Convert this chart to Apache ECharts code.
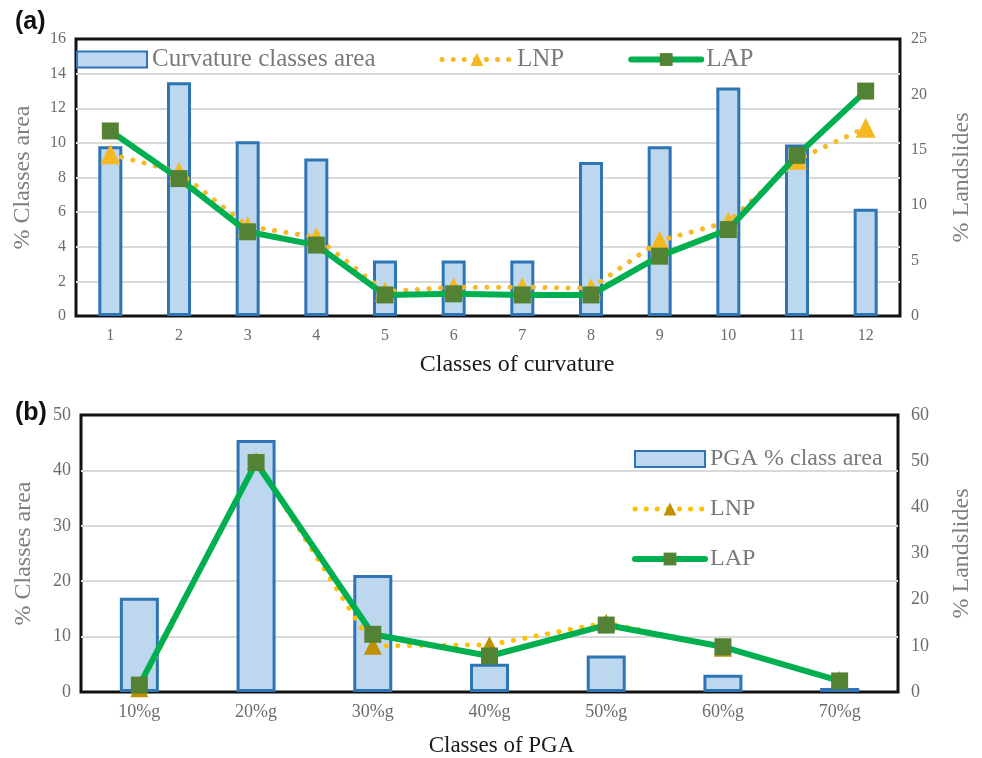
<!DOCTYPE html>
<html>
<head>
<meta charset="utf-8">
<script src="https://cdn.jsdelivr.net/npm/echarts@6/dist/echarts.min.js"></script>
<style>
html,body{margin:0;padding:0;background:#fff;}
#chart{width:982px;height:758px;}
</style>
</head>
<body>
<div id="chart"></div>
<script>
// ---- Data: panel (a) curvature ----
const curvCategories = ['1','2','3','4','5','6','7','8','9','10','11','12'];
const curvArea = [9.8, 13.5, 10.1, 9.1, 3.2, 3.2, 3.2, 8.9, 9.8, 13.2, 9.9, 6.2];
const curvLNP  = [14.6, 13.0, 8.1, 7.1, 2.2, 2.6, 2.6, 2.5, 6.8, 8.5, 14.1, 17.0];
const curvLAP  = [16.7, 12.4, 7.6, 6.4, 1.9, 2.0, 1.9, 1.9, 5.4, 7.8, 14.5, 20.3];

// ---- Data: panel (b) PGA ----
const pgaCategories = ['10%g','20%g','30%g','40%g','50%g','60%g','70%g'];
const pgaArea = [17.0, 45.5, 21.1, 5.1, 6.6, 3.1, 0.7];
const pgaLNP  = [0.8, 50.0, 10.0, 10.2, 15.0, 9.6, 2.6];
const pgaLAP  = [1.5, 49.7, 12.5, 7.8, 14.5, 9.8, 2.4];

const SERIF = 'Liberation Serif';
const tickColor = '#6b6b6b';
const nameColor = '#808080';
const barFill = '#bdd7ee';
const barBorder = '#2e75b6';
const lapColor = '#00b050';
const lapMarker = '#548235';
const dotColor = '#f7b928';

const chart = echarts.init(document.getElementById('chart'), null, {renderer:'canvas'});

const splitStyle = {show: true, showMinLine: false, showMaxLine: false, lineStyle: {color: '#d9d9d9', width: 2}};

const option = {
  backgroundColor: '#fff',
  animation: false,
  graphic: [
    {type:'text', left:15, top:10, style:{text:'(a)', font:'bold 25px "Liberation Sans"', fill:'#111'}},
    {type:'text', left:15, top:401, style:{text:'(b)', font:'bold 25px "Liberation Sans"', fill:'#111'}}
  ],
  legend: [
    {
      data: [
        {name: 'Curvature classes area', icon: 'rect'},
        {name: 'LNP', lineStyle: {width: 5, type: [0.1, 11], cap: 'round', color: dotColor}},
        {name: 'LAP', lineStyle: {width: 6, cap: 'round', color: lapColor}}
      ],
      left: 71, top: 42,
      orient: 'horizontal',
      itemWidth: 70, itemHeight: 16, itemGap: 64,
      textStyle: {fontFamily: SERIF, fontSize: 25, color: '#7a7a7a'},
      formatter: n => n.trim()
    },
    {
      data: [
        {name: 'PGA % class area', icon: 'rect'},
        {name: 'LNP ', lineStyle: {width: 5, type: [0.1, 11], cap: 'round', color: '#ffc000'}},
        {name: 'LAP ', lineStyle: {width: 6, cap: 'round', color: lapColor}}
      ],
      left: 627, top: 442,
      orient: 'vertical',
      itemWidth: 70, itemHeight: 16, itemGap: 26,
      textStyle: {fontFamily: SERIF, fontSize: 24, color: '#7a7a7a'},
      formatter: n => n.trim()
    }
  ],
  grid: [
    {left: 76, top: 39, right: 80, bottom: 442, show: true, borderColor: '#111', borderWidth: 3, containLabel: false},
    {left: 81, top: 415, right: 82, bottom: 66, show: true, borderColor: '#111', borderWidth: 3, containLabel: false}
  ],
  xAxis: [
    {
      type: 'category', gridIndex: 0, data: curvCategories,
      axisLine: {show: false}, axisTick: {show: false},
      axisLabel: {fontFamily: SERIF, fontSize: 16, color: tickColor, margin: 12},
      name: 'Classes of curvature', nameLocation: 'middle', nameGap: 37,
      nameTextStyle: {fontFamily: SERIF, fontSize: 24, color: '#1a1a1a', padding: [0, 0, 0, 58]}
    },
    {
      type: 'category', gridIndex: 1, data: pgaCategories,
      axisLine: {show: false}, axisTick: {show: false},
      axisLabel: {fontFamily: SERIF, fontSize: 18, color: tickColor, margin: 11},
      name: 'Classes of PGA', nameLocation: 'middle', nameGap: 42,
      nameTextStyle: {fontFamily: SERIF, fontSize: 23, color: '#1a1a1a', padding: [0, 0, 0, 24]}
    }
  ],
  yAxis: [
    {
      type: 'value', gridIndex: 0, min: 0, max: 16, interval: 2, position: 'left',
      axisLine: {show: false}, axisTick: {show: false},
      splitLine: splitStyle,
      axisLabel: {fontFamily: SERIF, fontSize: 16, color: tickColor, margin: 10},
      name: '% Classes area', nameLocation: 'middle', nameGap: 41, nameRotate: 90,
      nameTextStyle: {fontFamily: SERIF, fontSize: 24, color: nameColor}
    },
    {
      type: 'value', gridIndex: 0, min: 0, max: 25, interval: 5, position: 'right',
      axisLine: {show: false}, axisTick: {show: false},
      splitLine: {show: false},
      axisLabel: {fontFamily: SERIF, fontSize: 16, color: tickColor, margin: 11},
      name: '% Landslides', nameLocation: 'middle', nameGap: 50, nameRotate: 90,
      nameTextStyle: {fontFamily: SERIF, fontSize: 24, color: nameColor}
    },
    {
      type: 'value', gridIndex: 1, min: 0, max: 50, interval: 10, position: 'left',
      axisLine: {show: false}, axisTick: {show: false},
      splitLine: splitStyle,
      axisLabel: {fontFamily: SERIF, fontSize: 18, color: tickColor, margin: 10},
      name: '% Classes area', nameLocation: 'middle', nameGap: 45, nameRotate: 90,
      nameTextStyle: {fontFamily: SERIF, fontSize: 24, color: nameColor}
    },
    {
      type: 'value', gridIndex: 1, min: 0, max: 60, interval: 10, position: 'right',
      axisLine: {show: false}, axisTick: {show: false},
      splitLine: {show: false},
      axisLabel: {fontFamily: SERIF, fontSize: 18, color: tickColor, margin: 13},
      name: '% Landslides', nameLocation: 'middle', nameGap: 52, nameRotate: 90,
      nameTextStyle: {fontFamily: SERIF, fontSize: 24, color: nameColor}
    }
  ],
  series: [
    {
      name: 'Curvature classes area', type: 'bar', xAxisIndex: 0, yAxisIndex: 0,
      data: curvArea, barWidth: 24,
      itemStyle: {color: barFill, borderColor: barBorder, borderWidth: 3}
    },
    {
      name: 'LNP', type: 'line', xAxisIndex: 0, yAxisIndex: 1, data: curvLNP,
      symbol: 'triangle', symbolSize: 20,
      itemStyle: {color: '#f5b820'},
      lineStyle: {color: dotColor, width: 5, type: [0.1, 11.5], cap: 'round'},
      z: 3
    },
    {
      name: 'LAP', type: 'line', xAxisIndex: 0, yAxisIndex: 1, data: curvLAP,
      symbol: 'rect', symbolSize: 17,
      itemStyle: {color: lapMarker},
      lineStyle: {color: lapColor, width: 6, cap: 'round', join: 'round'},
      z: 4
    },
    {
      name: 'PGA % class area', type: 'bar', xAxisIndex: 1, yAxisIndex: 2,
      data: pgaArea, barWidth: 39,
      itemStyle: {color: barFill, borderColor: barBorder, borderWidth: 3}
    },
    {
      name: 'LNP ', type: 'line', xAxisIndex: 1, yAxisIndex: 3, data: pgaLNP,
      symbol: 'triangle', symbolSize: 18,
      itemStyle: {color: '#bf9000'},
      lineStyle: {color: '#ffc000', width: 5, type: [0.1, 11.5], cap: 'round'},
      z: 3
    },
    {
      name: 'LAP ', type: 'line', xAxisIndex: 1, yAxisIndex: 3, data: pgaLAP,
      symbol: 'rect', symbolSize: 17,
      itemStyle: {color: lapMarker},
      lineStyle: {color: lapColor, width: 6, cap: 'round', join: 'round'},
      z: 4
    }
  ]
};
chart.setOption(option);
</script>
</body>
</html>
